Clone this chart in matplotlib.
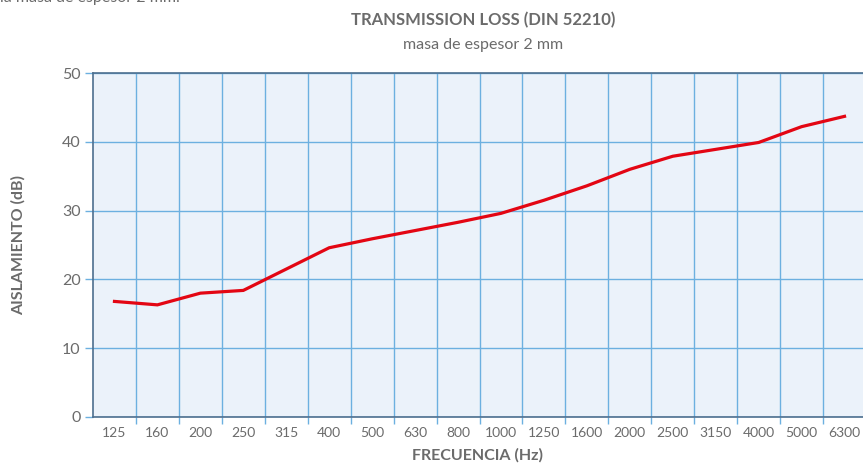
import matplotlib
matplotlib.use("Agg")
import matplotlib.pyplot as plt
import numpy as np

frequencies = ["125", "160", "200", "250", "315", "400", "500", "630", "800",
               "1000", "1250", "1600", "2000", "2500", "3150", "4000", "5000", "6300"]
aislamiento = [16.8, 16.3, 18.0, 18.4, 21.5, 24.6, 25.9, 27.1, 28.3,
               29.6, 31.5, 33.6, 36.0, 37.9, 38.9, 39.9, 42.2, 43.7]
y_ticks = [0, 10, 20, 30, 40, 50]

plt.rcParams['font.family'] = ['Lato', 'DejaVu Sans']
text_gray = '#6b6b6b'
grid_blue = '#6cb0e0'
spine_col = '#4d6f8f'

fig = plt.figure(figsize=(8.63, 4.65), dpi=100)
ax = fig.add_axes([93 / 863, 1 - 417 / 465, 773 / 863, 344 / 465])
ax.set_facecolor('#ebf2fa')

x = np.arange(len(frequencies))
ax.plot(x, aislamiento, color='#e30613', lw=2.3, solid_joinstyle='miter', zorder=3)

ax.set_xlim(-0.5, len(frequencies) - 0.5)
ax.set_ylim(0, 50)

# gridlines between categories, labels at the centres
ax.set_xticks(x[:-1] + 0.5)
ax.set_xticklabels([])
ax.set_xticks(x, minor=True)
ax.set_xticklabels(frequencies, minor=True)
ax.tick_params(axis='x', which='major', length=5, color=grid_blue, width=1)
ax.tick_params(axis='x', which='minor', length=0, pad=7, labelsize=10, labelcolor=text_gray)
ax.set_yticks(y_ticks)
ax.tick_params(axis='y', length=6, color=grid_blue, width=1, pad=3, labelsize=11.5, labelcolor=text_gray)

ax.grid(True, which='major', color=grid_blue, lw=1)
for s in ['left', 'bottom', 'top']:
    ax.spines[s].set_color(spine_col)
    ax.spines[s].set_linewidth(1.2)
ax.spines['right'].set_visible(False)

ax.set_xlabel("FRECUENCIA (Hz)", fontsize=11.5, fontweight='bold', color=text_gray)
ax.xaxis.set_label_coords((478 - 93) / 773, -(448 - 417) / 344)
ax.set_ylabel("AISLAMIENTO (dB)", fontsize=11.5, fontweight='bold', color=text_gray)
ax.yaxis.set_label_coords((26 - 93) / 773, 0.5)

fig.text(483 / 863, 1 - 20 / 465, "TRANSMISSION LOSS (DIN 52210)", ha='center', va='center',
         fontsize=12, fontweight='bold', color=text_gray)
fig.text(483 / 863, 1 - 45 / 465, "masa de espesor 2 mm", ha='center', va='center',
         fontsize=11.5, color=text_gray)
fig.text(0.0, 1 + 2 / 465, "la masa de espesor 2 mm.", ha='left', va='center',
         fontsize=11.5, color=text_gray)

fig.savefig("out.png", dpi=100)
